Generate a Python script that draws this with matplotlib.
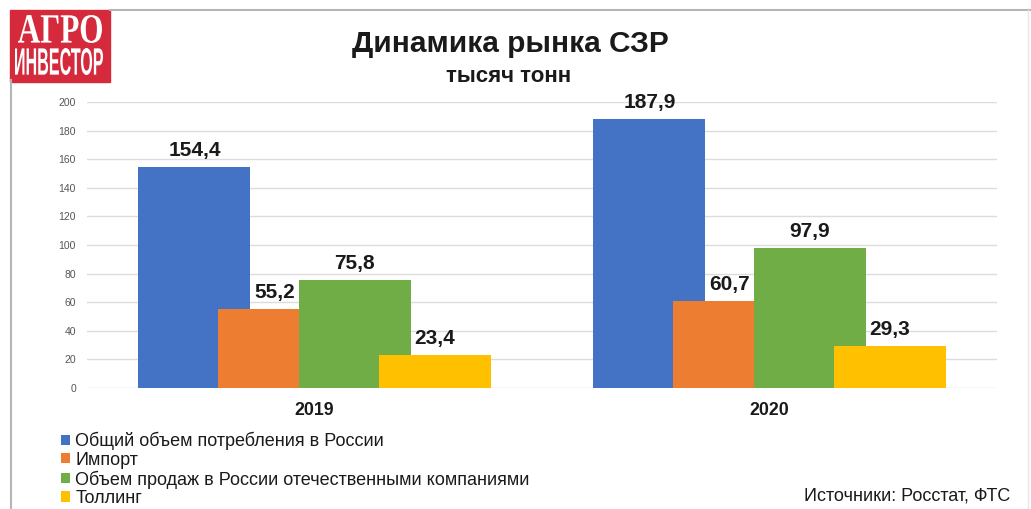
import matplotlib
matplotlib.use("Agg")
import matplotlib.pyplot as plt
import numpy as np
from matplotlib.textpath import TextPath
from matplotlib.font_manager import FontProperties
from matplotlib.patches import PathPatch, Rectangle
from matplotlib.transforms import Affine2D
from matplotlib.lines import Line2D

years = ["2019", "2020"]
series_names = [
    "Общий объем потребления в России",
    "Импорт",
    "Объем продаж в России отечественными компаниями",
    "Толлинг",
]
total = [154.4, 187.9]
imports = [55.2, 60.7]
domestic = [75.8, 97.9]
tolling = [23.4, 29.3]
series_values = [total, imports, domestic, tolling]
colors = ["#4472C4", "#ED7D31", "#70AD47", "#FFC000"]
yticks = list(range(0, 201, 20))

W, H = 1031, 509
fig = plt.figure(figsize=(W / 100, H / 100), dpi=100)
fig.patch.set_facecolor("white")

def fx(px):
    return px / W

def fy(py):
    return 1 - py / H

ax = fig.add_axes([fx(87), fy(388), (997 - 87) / W, (388 - 102) / H])
x = np.arange(len(years))
bw = 0.246
step = 0.176
offsets = (np.arange(4) - 1.5) * step
for i, (vals, c) in enumerate(zip(series_values, colors)):
    ax.bar(x + offsets[i], vals, width=bw, color=c, label=series_names[i], zorder=2 + i)
    for xi, v in zip(x + offsets[i], vals):
        ax.annotate(f"{v:.1f}".replace(".", ","), (xi, v), xytext=(0, 5), textcoords="offset points",
                    ha="center", va="bottom", fontsize=15, fontweight="bold",
                    family="Liberation Sans", color="#1a1a1a", zorder=10)

ax.set_xlim(-0.5, 1.5)
ax.set_ylim(0, 200)
ax.set_yticks(yticks)
ax.set_yticklabels([str(t) for t in yticks], fontsize=7.5, color="#555555", family="Liberation Sans")
ax.set_xticks(x)
ax.set_xticklabels(years, fontsize=12.8, fontweight="bold", family="Liberation Sans", color="#1a1a1a")
ax.tick_params(axis="y", length=0, pad=8)
ax.tick_params(axis="x", length=0, pad=10)
ax.grid(axis="y", color="#dcdcdc", linewidth=1, zorder=0)
ax.set_axisbelow(True)
for s in ax.spines.values():
    s.set_visible(False)

# Frame lines
fig.add_artist(Line2D([fx(110), fx(1031)], [fy(10), fy(10)], color="#b5b5b5", lw=1.5))
fig.add_artist(Line2D([fx(11), fx(11)], [fy(80), fy(509)], color="#b5b5b5", lw=1.5))
fig.add_artist(Line2D([fx(1028), fx(1028)], [fy(10), fy(509)], color="#e6e6e6", lw=1))

# Logo
fig.add_artist(Rectangle((fx(10), fy(82)), fx(100), 72 / H, color="#d42a3c", transform=fig.transFigure))

def fit_text(s, x0, y_top, w, h, prop):
    tp = TextPath((0, 0), s, size=100, prop=prop)
    bb = tp.get_extents()
    tr = (Affine2D().translate(-bb.x0, -bb.y0).scale(w / bb.width, h / bb.height)
          .translate(x0, H - y_top - h).scale(1 / W, 1 / H))
    fig.add_artist(PathPatch(tp, transform=tr + fig.transFigure, color="white", lw=0))

fit_text("АГРО", 18, 15, 84, 28, FontProperties(family="Liberation Serif", weight="bold"))
fit_text("ИНВЕСТОР", 15, 48, 88, 27, FontProperties(family="Liberation Sans", weight="bold"))

# Titles
fig.text(fx(510), fy(44), "Динамика рынка СЗР", ha="center", va="center", fontsize=21.5,
         fontweight="bold", family="Liberation Sans", color="#1a1a1a")
fig.text(fx(509), fy(77), "тысяч тонн", ha="center", va="center", fontsize=16,
         fontweight="bold", family="Liberation Sans", color="#1a1a1a")

# Legend
leg = fig.legend(loc="upper left", bbox_to_anchor=(fx(61), fy(432)), frameon=False,
                 prop=FontProperties(family="Liberation Sans", size=13),
                 handlelength=0.5, handleheight=0.5, handletextpad=0.3, labelspacing=0.08,
                 borderpad=0, borderaxespad=0)
for t in leg.get_texts():
    t.set_color("#1a1a1a")

fig.text(fx(1010), fy(496), "Источники: Росстат, ФТС", ha="right", va="center", fontsize=13,
         family="Liberation Sans", color="#1a1a1a")

fig.savefig("out.png", dpi=100)
